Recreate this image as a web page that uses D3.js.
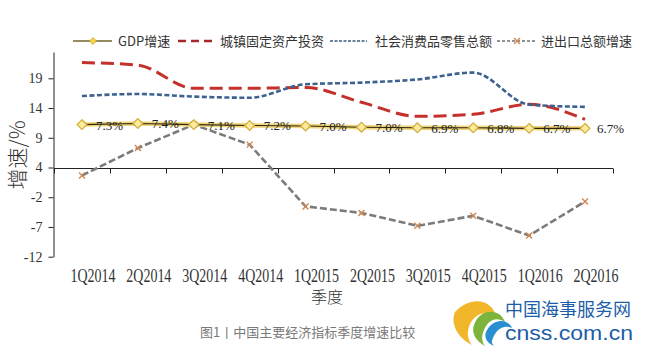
<!DOCTYPE html>
<html>
<head>
<meta charset="utf-8">
<script src="https://cdn.jsdelivr.net/npm/d3@7/dist/d3.min.js"></script>
<style>
  html, body { margin: 0; padding: 0; background: #fff; }
  svg { display: block; }
</style>
</head>
<body>
<svg id="chart" width="647" height="347"></svg>
<script>
// ---- data ----
const categories = ["1Q2014","2Q2014","3Q2014","4Q2014","1Q2015","2Q2015","3Q2015","4Q2015","1Q2016","2Q2016"];
const gdpValues    = [11.1, 11.3, 11.1, 10.95, 10.85, 10.65, 10.55, 10.55, 10.45, 10.45];
const gdpLabels    = ["7.3%","7.4%","7.1%","7.2%","7.0%","7.0%","6.9%","6.8%","6.7%","6.7%"];
const faiValues    = [21.95, 21.5, 17.45, 17.45, 17.6, 15.0, 12.55, 12.9, 14.65, 12.0];
const retailValues = [16.1, 16.45, 16.0, 15.8, 18.15, 18.45, 19.0, 20.2, 14.6, 14.2];
const tradeValues  = [2.2, 7.0, 11.1, 7.6, -3.2, -4.35, -6.6, -4.85, -8.3, -2.35];
const yTickValues  = [-12, -6.8, -1.6, 3.6, 8.8, 14, 19.2];
const yTickLabels  = ["-12","-7","-2","4","9","14","19"];
const seriesNames  = ["GDP增速","城镇固定资产投资","社会消费品零售总额","进出口总额增速"];
const yTitle = "增速/%";
const xTitle = "季度";
const caption = "图1丨中国主要经济指标季度增速比较";

const svg = d3.select("#chart");
svg.append("rect").attr("width", 647).attr("height", 347).attr("fill", "#fff");

const x = d3.scaleBand().domain(categories).range([54, 613]).padding(0);
const y = d3.scaleLinear().domain([-12, 23.8]).range([256.7, 52]);
const cx = c => x(c) + x.bandwidth() / 2;
const serif = "'Liberation Serif','Times New Roman',serif";
const cjk = "'Noto Sans CJK SC','Noto Sans',sans-serif";

// ---- y axis ----
const yAxis = d3.axisLeft(y).tickValues(yTickValues)
  .tickFormat((d, i) => yTickLabels[i]).tickSize(5).tickSizeOuter(0);
const gy = svg.append("g").attr("transform", "translate(53.5,0)").call(yAxis);
gy.select(".domain").attr("stroke", "#222");
gy.selectAll(".tick line").attr("stroke", "#222");
gy.selectAll(".tick text").attr("font-family", serif).attr("font-size", 14)
  .attr("fill", "#333").attr("x", -11);

// ---- x axis (at value 3.6, labelled "4") ----
const y0 = Math.round(y(3.6)) + 0.5;
const gx = svg.append("g");
gx.append("line").attr("x1", x.range()[0]).attr("x2", x.range()[1])
  .attr("y1", y0).attr("y2", y0).attr("stroke", "#222");
const bounds = categories.map(c => x(c)).concat([x.range()[1]]);
gx.selectAll("line.tk").data(bounds).join("line").attr("class", "tk")
  .attr("x1", d => Math.round(d) + 0.5).attr("x2", d => Math.round(d) + 0.5)
  .attr("y1", y0).attr("y2", y0 + 5).attr("stroke", "#222");
gx.selectAll("text.xl").data(categories).join("text").attr("class", "xl")
  .attr("x", d => cx(d) + 11 - 22.5).attr("y", 282)
  .attr("textLength", 45).attr("lengthAdjust", "spacingAndGlyphs")
  .attr("font-family", serif).attr("font-size", 18).attr("fill", "#333")
  .text(d => d);

// ---- axis titles ----
svg.append("text").attr("transform", "translate(25,155) rotate(-90)")
  .attr("text-anchor", "middle").attr("font-family", cjk).attr("font-size", 21)
  .attr("font-weight", 300).attr("fill", "#333").text(yTitle);
svg.append("text").attr("x", 327).attr("y", 303).attr("text-anchor", "middle")
  .attr("font-family", cjk).attr("font-size", 16).attr("font-weight", 300)
  .attr("fill", "#333").text(xTitle);

// ---- lines ----
const lineStraight = d3.line().x((d, i) => cx(categories[i])).y(d => y(d));
const lineSmooth = d3.line().x((d, i) => cx(categories[i])).y(d => y(d)).curve(d3.curveMonotoneX);

svg.append("path").attr("d", lineSmooth(faiValues)).attr("fill", "none")
  .attr("stroke", "#c4302b").attr("stroke-width", 3).attr("stroke-dasharray", "13,6");
svg.append("path").attr("d", lineSmooth(retailValues)).attr("fill", "none")
  .attr("stroke", "#3d6290").attr("stroke-width", 2.6).attr("stroke-dasharray", "5,2.5");
svg.append("path").attr("d", lineStraight(tradeValues)).attr("fill", "none")
  .attr("stroke", "#7b7b7b").attr("stroke-width", 2.6).attr("stroke-dasharray", "7,3");

// trade markers (x)
const xMark = (g, px, py) => {
  g.append("path").attr("d", `M${px-3},${py-3}L${px+3},${py+3}M${px-3},${py+3}L${px+3},${py-3}`)
    .attr("stroke", "#d08a55").attr("stroke-width", 1.4);
};
const gt = svg.append("g");
tradeValues.forEach((v, i) => xMark(gt, cx(categories[i]), y(v)));

// GDP line
svg.append("path").attr("d", lineStraight(gdpValues)).attr("fill", "none")
  .attr("stroke", "#f0d67a").attr("stroke-width", 4.5);
svg.append("path").attr("d", lineStraight(gdpValues)).attr("fill", "none")
  .attr("stroke", "#2a2410").attr("stroke-width", 1.1);
const diamond = d3.symbol().type(d3.symbolDiamond2).size(60);
svg.selectAll("path.gd").data(gdpValues).join("path").attr("class", "gd")
  .attr("transform", (d, i) => `translate(${cx(categories[i])},${y(d)})`)
  .attr("d", diamond).attr("fill", "#fbeaa0").attr("stroke", "#d2ac36").attr("stroke-width", 1.2);
svg.selectAll("text.gl").data(gdpLabels).join("text").attr("class", "gl")
  .attr("x", (d, i) => cx(categories[i]) + (i === gdpLabels.length - 1 ? 12 : 14))
  .attr("y", (d, i) => y(gdpValues[i]) + 5)
  .attr("font-family", serif).attr("font-size", 13).attr("fill", "#222").text(d => d);

// ---- legend ----
const ly = 41;
const lg = svg.append("g").attr("font-family", cjk).attr("font-size", 13).attr("fill", "#333");
// GDP
lg.append("line").attr("x1", 73).attr("x2", 112).attr("y1", ly).attr("y2", ly)
  .attr("stroke", "#6e6530").attr("stroke-width", 1.6);
lg.append("path").attr("transform", `translate(93,${ly})`).attr("d", d3.symbol().type(d3.symbolDiamond2).size(30))
  .attr("fill", "#f7d64a").attr("stroke", "#d2ac36");
lg.append("text").attr("x", 118).attr("y", ly + 5).text(seriesNames[0]);
// FAI
lg.append("line").attr("x1", 178).attr("x2", 215).attr("y1", ly).attr("y2", ly)
  .attr("stroke", "#a8282a").attr("stroke-width", 2.5).attr("stroke-dasharray", "8,5");
lg.append("text").attr("x", 220).attr("y", ly + 5).text(seriesNames[1]);
// retail
lg.append("line").attr("x1", 330).attr("x2", 367).attr("y1", ly).attr("y2", ly)
  .attr("stroke", "#3d5a80").attr("stroke-width", 1.6).attr("stroke-dasharray", "3,1.5");
lg.append("text").attr("x", 375).attr("y", ly + 5).text(seriesNames[2]);
// trade
lg.append("line").attr("x1", 497).attr("x2", 537).attr("y1", ly).attr("y2", ly)
  .attr("stroke", "#6f6f6f").attr("stroke-width", 1.6).attr("stroke-dasharray", "3,2");
xMark(lg, 517, ly);
lg.append("text").attr("x", 541).attr("y", ly + 5).text(seriesNames[3]);

// ---- caption ----
svg.append("text").attr("x", 200).attr("y", 337).attr("font-family", cjk)
  .attr("font-size", 13).attr("fill", "#7a7a7a").text(caption);

// ---- watermark ----
const wm = svg.append("g");
wm.append("path").attr("d", "M455,312 C470,296 492,298 497,318 C488,310 476,312 470,324 C466,333 468,340 472,345 C458,338 450,324 455,312Z")
  .attr("fill", "#f2b62a");
wm.append("path").attr("d", "M474,325 C480,308 500,308 505,322 C496,316 488,320 484,330 C481,337 482,342 485,346 C476,341 471,333 474,325Z")
  .attr("fill", "#7cb43c");
wm.append("path").attr("d", "M486,332 C492,318 508,318 512,328 C503,324 496,330 493,338 C491,342 492,344 494,346 C487,343 484,338 486,332Z")
  .attr("fill", "#2a8fd0");
wm.append("text").attr("x", 505).attr("y", 316).attr("font-family", cjk).attr("font-size", 18)
  .attr("fill", "#1d5ea8").text("中国海事服务网");
wm.append("text").attr("x", 505).attr("y", 340).attr("font-family", "'Liberation Sans',Arial,sans-serif")
  .attr("font-size", 21).attr("fill", "#1d5ea8").attr("textLength", 128).attr("lengthAdjust", "spacingAndGlyphs")
  .text("cnss.com.cn");
</script>
</body>
</html>
